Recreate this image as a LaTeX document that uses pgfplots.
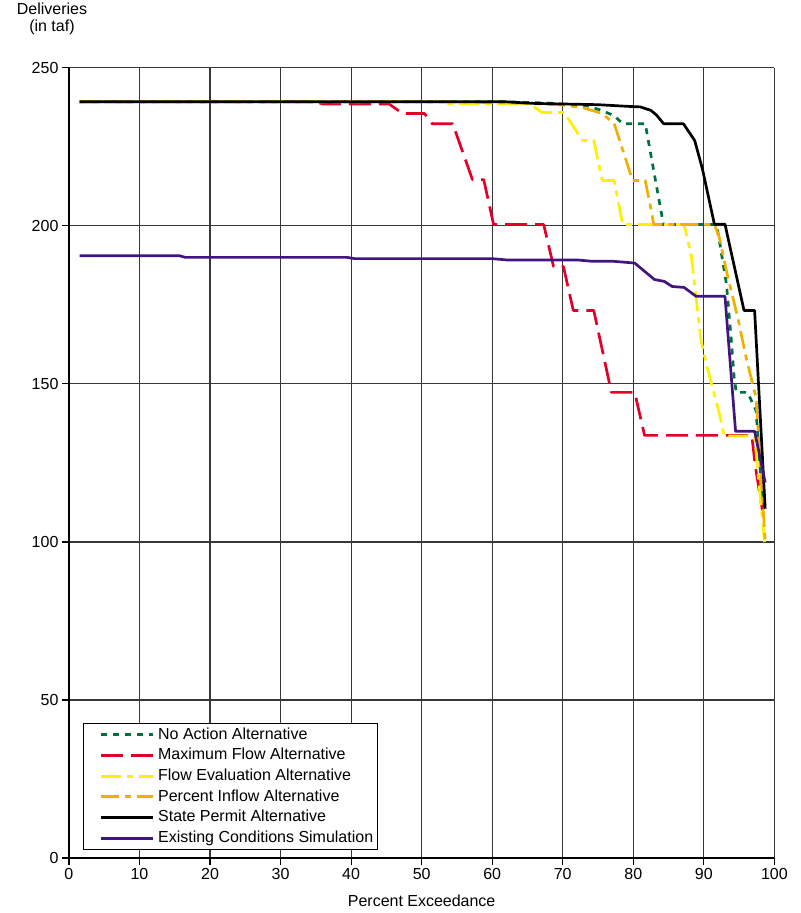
\documentclass[border=0pt]{standalone}
\usepackage{fontspec}
\setmainfont{Liberation Sans}
\usepackage{pgfplots}
\pgfplotsset{compat=1.18}
\definecolor{cgreen}{RGB}{0,112,60}
\definecolor{cred}{RGB}{226,0,40}
\definecolor{cyellow}{RGB}{255,240,0}
\definecolor{corange}{RGB}{240,176,0}
\definecolor{cpurple}{RGB}{65,20,130}
\begin{document}
\begin{tikzpicture}[font=\fontsize{16}{17}\selectfont]
\begin{axis}[
  scale only axis, width=706pt, height=791pt,
  xmin=0, xmax=100, ymin=0, ymax=250,
  xtick={0,10,...,100}, ytick={0,50,...,250},
  grid=major, grid style={black!78, line width=1.2pt},
  axis lines*=left, axis line style={black, line width=1.2pt},
  tick align=outside, major tick length=7pt, tick style={black, line width=1.2pt},
  /pgf/number format/assume math mode=true,
  ticklabel style={font=\fontsize{16}{17}\selectfont},
  xlabel={Percent Exceedance},
  xlabel style={at={(axis description cs:0.5,0)}, anchor=center, yshift=-43pt},
  legend cell align=left,
  legend style={at={(rel axis cs:0,0)}, anchor=south west, xshift=14pt, yshift=8pt,
    draw=black, line width=1.2pt, inner xsep=3pt, inner ysep=3pt,
    font=\fontsize{16}{17}\selectfont,
    nodes={inner sep=1pt, text height=11.5pt, text depth=3pt},
    row sep=4.2pt},
  legend image code/.code={\path (0pt,0pt) (68pt,0pt); \draw[#1] (13pt,0pt) -- (65pt,0pt);},
  every axis plot/.append style={line width=2.7pt, line join=round},
]
\addplot[cgreen, dash pattern=on 6pt off 6pt] coordinates {
(1.5,239.2) (62,239.2) (68,238.8) (73.4,238) (75.5,236.5) (77.3,234.8) (78.5,232.3) (81.7,232.3) (84.0,203.8) (84.3,200.4) (91.8,200.4) (92.2,195.3) (93.2,181.7) (93.9,163.7) (94.3,152) (94.6,147.3) (96.2,147.3) (97.4,141.6) (98.4,110)};
\addlegendentry{No Action Alternative}
\addplot[cred, dash pattern=on 22pt off 8pt] coordinates {
(1.5,239.2) (35,239.2) (36,238.5) (45.4,238.5) (47.3,235.5) (50.4,235.5) (51.5,232.3) (54.4,232.3) (57.2,214.6) (58.8,214.6) (60.2,200.4) (67.3,200.4) (68.7,187.1) (70.1,187.1) (71.5,173.2) (74.4,173.2) (76.9,147.3) (80.2,147.3) (81.6,133.7) (96.8,133.7) (97.3,124) (98.3,110)};
\addlegendentry{Maximum Flow Alternative}
\addplot[cyellow, dash pattern=on 20pt off 6pt on 6pt off 6pt] coordinates {
(1.5,239.2) (53,239.2) (53.9,238.6) (65.3,238.6) (67.1,235.8) (70.2,235.8) (72.8,227) (74.4,227) (75.6,214.3) (77.3,214.3) (78.5,200.4) (87.2,200.4) (88.2,191) (89.6,163.7) (90.5,155) (92.2,140.6) (92.9,133.5) (97.2,133.5) (98.6,100)};
\addlegendentry{Flow Evaluation Alternative}
\addplot[corange, dash pattern=on 18pt off 6pt on 6pt off 6pt] coordinates {
(1.5,239.2) (55,239.2) (65,238.7) (70,238.2) (72.8,237.4) (75.6,235.5) (77.3,232.3) (79.9,214.3) (81.7,214.3) (82.6,204.2) (82.9,200.4) (91.5,200.4) (92.2,196.3) (93.2,185.8) (94.8,171) (96.0,158.3) (97.4,145.7) (98.7,100.5)};
\addlegendentry{Percent Inflow Alternative}
\addplot[black] coordinates {
(1.5,239.2) (62,239.2) (66,238.7) (75,238.3) (79,237.8) (81,237.6) (82.5,236.5) (83.3,235) (84.3,232.3) (87.1,232.3) (88.7,227) (89.8,218) (91.5,200.5) (93.0,200.5) (95.7,173.2) (97.2,173.2) (98.7,110.5)};
\addlegendentry{State Permit Alternative}
\addplot[cpurple] coordinates {
(1.5,190.5) (15.7,190.5) (16.5,190) (39.4,190) (40.5,189.6) (60,189.6) (62,189.2) (72,189.2) (74,188.8) (77,188.8) (80.2,188.2) (83.0,183) (84.4,182.4) (85.5,180.8) (87.2,180.5) (88.9,177.7) (93.0,177.7) (94.5,135) (97.2,135) (98.7,118.8)};
\addlegendentry{Existing Conditions Simulation}
\end{axis}
\node[align=center, anchor=south] at ([xshift=-17pt,yshift=29pt]current axis.north west) {Deliveries\\(in taf)};
\path ([xshift=-69pt,yshift=-55pt]current axis.south west) rectangle ([xshift=26pt,yshift=67pt]current axis.north east);
\end{tikzpicture}
\end{document}
